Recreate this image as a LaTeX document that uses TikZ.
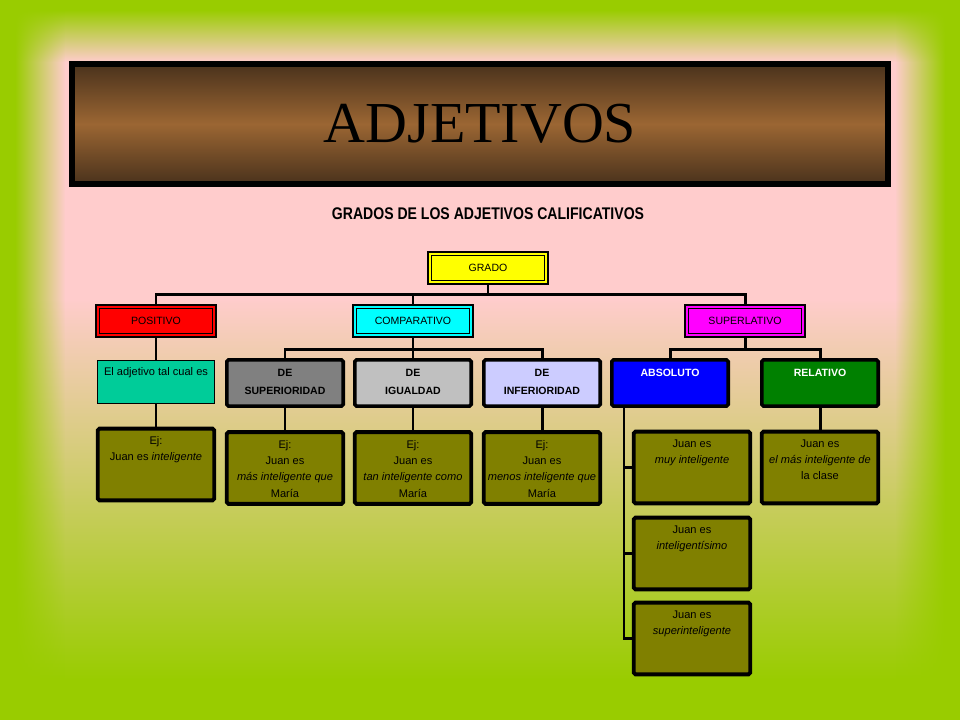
\documentclass[tikz,border=0pt]{standalone}
\usepackage{fontspec}
\setmainfont{Liberation Sans}
\newfontfamily\titlefont{Liberation Serif}
\usetikzlibrary{fadings}

\definecolor{leafgreen}{RGB}{153,204,0}
\definecolor{rosepink}{RGB}{255,204,204}
\definecolor{darkbrown}{RGB}{74,50,28}
\definecolor{lightbrown}{RGB}{155,102,51}
\definecolor{lemon}{RGB}{255,255,0}
\definecolor{scarlet}{RGB}{255,0,0}
\definecolor{aqua}{RGB}{0,255,255}
\definecolor{fuchsia}{RGB}{255,0,255}
\definecolor{jade}{RGB}{0,204,153}
\definecolor{midgray}{RGB}{128,128,128}
\definecolor{silver}{RGB}{192,192,192}
\definecolor{lavender}{RGB}{204,204,255}
\definecolor{royalblue}{RGB}{0,0,255}
\definecolor{grassgreen}{RGB}{0,128,0}
\definecolor{olivebox}{RGB}{128,128,0}

\tikzfading[name=fade down, top color=transparent!0, bottom color=transparent!100]
\tikzfading[name=fade up, top color=transparent!100, bottom color=transparent!0]
\tikzfading[name=fade right, left color=transparent!0, right color=transparent!100]
\tikzfading[name=fade left, left color=transparent!100, right color=transparent!0]

\newcommand{\boxtext}[2]{\parbox[t][#1][t]{2.26cm}{\centering #2}}

\begin{document}
\begin{tikzpicture}[x=0.02cm, y=-0.02cm]
\useasboundingbox (0,0) rectangle (960,720);

        % Setup the styles for the boxes
        \tikzset{grade style/.style={draw, fill=#1, line width=1.6pt,
                                     minimum width=2.4cm, minimum height=0.64cm,
                                     font=\fontsize{6}{7}\selectfont,
                                     path picture={\draw[line width=0.5pt]
                                       ([shift={(1.8pt,1.8pt)}]path picture bounding box.south west) rectangle
                                       ([shift={(-1.8pt,-1.8pt)}]path picture bounding box.north east);}},
                 plain style/.style={draw, fill=jade, line width=0.6pt,
                                     inner xsep=1pt, inner ysep=4pt,
                                     font=\fontsize{6.3}{9.3}\selectfont},
                 kind style/.style={draw, fill=#1, line width=2pt, rounded corners=1pt,
                                    inner xsep=1pt, inner ysep=5.5pt,
                                    font=\bfseries\fontsize{6}{10}\selectfont},
                 example style/.style={draw, fill=olivebox, line width=2.2pt, rounded corners=1pt,
                                       inner xsep=1pt, inner ysep=4.5pt,
                                       font=\fontsize{6.3}{9.3}\selectfont},
                 link style/.style={line width=1.7pt}}

% Background
\fill[rosepink] (0,0) rectangle (960,720);
\fill[leafgreen, path fading=fade up] (0,300) rectangle (960,680);
\fill[leafgreen] (0,680) rectangle (960,720);
\fill[leafgreen, path fading=fade down] (0,10) rectangle (960,62);
\fill[leafgreen] (0,0) rectangle (960,10);
\fill[leafgreen, path fading=fade right] (15,0) rectangle (65,720);
\fill[leafgreen] (0,0) rectangle (15,720);
\fill[leafgreen, path fading=fade left] (895,0) rectangle (945,720);
\fill[leafgreen] (945,0) rectangle (960,720);

% Title
\node[draw, line width=3.4pt, minimum width=16.32cm, minimum height=2.4cm,
      top color=darkbrown, bottom color=darkbrown, middle color=lightbrown,
      font=\titlefont\fontsize{33}{33}\selectfont] at (480,124) (title) {ADJETIVOS};
\node[font=\bfseries\fontsize{8}{8}\selectfont, yscale=1.2] at (488,214) (subtitle) {GRADOS DE LOS ADJETIVOS CALIFICATIVOS};

% Add the grades
\node[grade style=lemon] at (488,268) (grado) {GRADO};
\node[grade style=scarlet] at (156,321) (pos) {POSITIVO};
\node[grade style=aqua] at (413,321) (comp) {COMPARATIVO};
\node[grade style=fuchsia] at (745,321) (sup) {SUPERLATIVO};

% Add the kinds
\node[plain style] at (156,382) (tal) {\boxtext{0.58cm}{El adjetivo tal cual es}};
\node[kind style=midgray] at (285,383) (desup) {\boxtext{0.54cm}{DE\\SUPERIORIDAD}};
\node[kind style=silver] at (413,383) (deigu) {\boxtext{0.54cm}{DE\\IGUALDAD}};
\node[kind style=lavender] at (542,383) (deinf) {\boxtext{0.54cm}{DE\\INFERIORIDAD}};
\node[kind style=royalblue, text=white] at (670,383) (abso) {\boxtext{0.54cm}{ABSOLUTO}};
\node[kind style=grassgreen, text=white] at (820,383) (relat) {\boxtext{0.54cm}{RELATIVO}};

% Add the examples
\node[example style] at (156,464.5) (ejpos) {\boxtext{1.12cm}{Ej:\\Juan es \textit{inteligente}}};
\node[example style] at (285,468) (ejsup) {\boxtext{1.12cm}{Ej:\\Juan es\\\textit{más inteligente que}\\María}};
\node[example style] at (413,468) (ejigu) {\boxtext{1.12cm}{Ej:\\Juan es\\\textit{tan inteligente como}\\María}};
\node[example style] at (542,468) (ejinf) {\boxtext{1.12cm}{Ej:\\Juan es\\\textit{menos inteligente que}\\María}};
\node[example style] at (692,467.5) (muy) {\boxtext{1.12cm}{Juan es\\\textit{muy inteligente}}};
\node[example style] at (692,553.5) (isimo) {\boxtext{1.12cm}{Juan es\\\textit{inteligentísimo}}};
\node[example style] at (692,638.5) (superi) {\boxtext{1.12cm}{Juan es\\\textit{superinteligente}}};
\node[example style] at (820,467.5) (ejrel) {\boxtext{1.12cm}{Juan es\\\textit{el más inteligente de}\\la clase}};

% Connect them
\draw[link style] (grado.south) -- ++(0,9) -| (pos.north);
\draw[link style] (grado.south) -- ++(0,9) -| (comp.north);
\draw[link style] (grado.south) -- ++(0,9) -| (sup.north);
\draw[link style] (pos) -- (tal);
\draw[link style] (tal) -- (ejpos);
\draw[link style] (comp.south) -- ++(0,11) -| (desup.north);
\draw[link style] (comp.south) -- ++(0,11) -| (deigu.north);
\draw[link style] (comp.south) -- ++(0,11) -| (deinf.north);
\draw[link style] (desup) -- (ejsup);
\draw[link style] (deigu) -- (ejigu);
\draw[link style] (deinf) -- (ejinf);
\draw[link style] (sup.south) -- ++(0,11) -| (abso.north);
\draw[link style] (sup.south) -- ++(0,11) -| (relat.north);
\draw[link style] (relat) -- (ejrel);
\draw[link style] ([xshift=0.28cm]abso.south west) |- (muy.west);
\draw[link style] ([xshift=0.28cm]abso.south west) |- (isimo.west);
\draw[link style] ([xshift=0.28cm]abso.south west) |- (superi.west);
\end{tikzpicture}
\end{document}
